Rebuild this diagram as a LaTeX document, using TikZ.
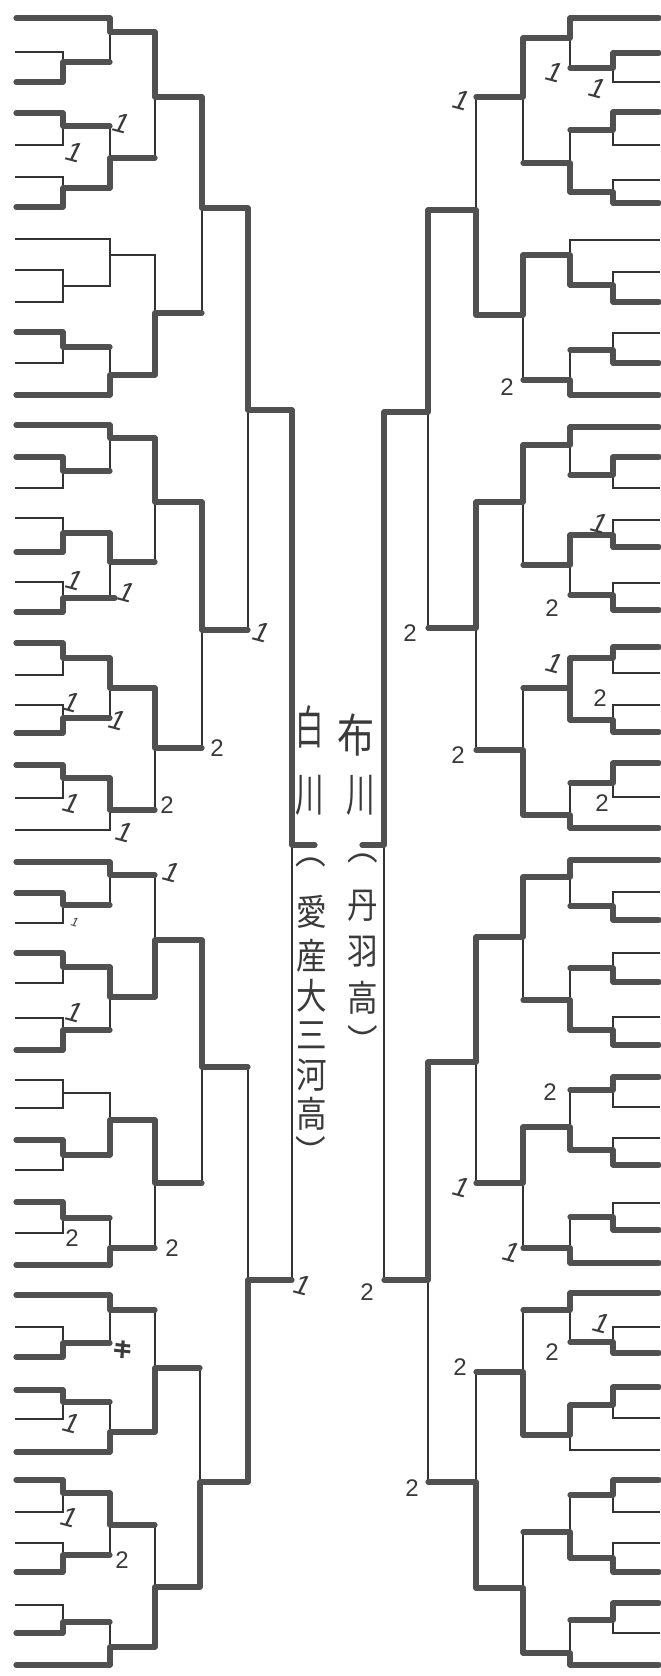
\documentclass[tikz,border=0pt]{standalone}
\usepackage{fontspec}
\setmainfont{Liberation Sans}
\newfontfamily\jp{Noto Sans CJK JP}
\definecolor{thinc}{HTML}{333333}
\definecolor{thkc}{HTML}{505050}
\definecolor{inkc}{HTML}{3A3A3A}
\pgfdeclarelayer{bg}
\pgfsetlayers{bg,main}
\tikzset{
 thn/.style={line width=1.3pt, draw=thinc, line cap=rect},
 thk/.style={line width=5.2pt, draw=thkc, line cap=round, line join=round},
 two/.style={font=\fontsize{24}{24}\selectfont, text=inkc, inner sep=0pt},
 one/.style={font=\fontsize{28}{28}\selectfont\itshape, text=inkc, inner sep=0pt, rotate=-15},
 jpbig/.style={font=\jp\fontsize{46}{46}\selectfont, text=inkc, inner sep=0pt, xscale=0.62},
 jpsm/.style={font=\jp\fontsize{36}{36}\selectfont, text=inkc, inner sep=0pt, xscale=0.85}
}
\newcommand\eK[3]{\draw[thk] (#1,#3) -- (#2,#3);}
\newcommand\eN[3]{\begin{pgfonlayer}{bg}\draw[thn] (#1,#3) -- (#2,#3);\end{pgfonlayer}}
\newcommand\mV[3]{\begin{pgfonlayer}{bg}\draw[thn] (#1,#2) -- (#1,#3);\end{pgfonlayer}}
\newcommand\mT[5]{\mV{#1}{#3}{#4}\draw[thk] (#1,#3) -- (#1,#5) -- (#2,#5);}
\newcommand\mB[5]{\mV{#1}{#3}{#4}\draw[thk] (#1,#4) -- (#1,#5) -- (#2,#5);}
\newcommand\mN[5]{\mV{#1}{#3}{#4}\begin{pgfonlayer}{bg}\draw[thn] (#1,#5) -- (#2,#5);\end{pgfonlayer}}
\begin{document}
\begin{tikzpicture}[x=1pt,y=-1pt]
\begin{pgfonlayer}{bg}
\fill[white] (0,0) rectangle (661,1676);
\end{pgfonlayer}
\useasboundingbox (0,0) rectangle (661,1676);
% ================= LEFT =================
% block 1
\eK{16}{110}{18}\eN{16}{63}{52}\eK{16}{63}{82}\eK{16}{63}{113}\eN{16}{63}{145}
\eN{16}{63}{177}\eK{16}{63}{207}\eN{16}{110}{239}\eN{16}{63}{270}\eN{16}{63}{302}
\eK{16}{63}{332}\eN{16}{63}{363}\eK{16}{110}{395}
\mB{63}{110}{52}{82}{62}
\mT{110}{155}{18}{62}{32}
\mT{63}{110}{113}{145}{126}
\mB{63}{110}{177}{207}{188}
\mB{110}{155}{126}{188}{158}
\mT{155}{202}{32}{158}{97}
\mN{63}{110}{270}{302}{286}
\mN{110}{155}{239}{286}{255}
\mT{63}{110}{332}{363}{347}
\mB{110}{155}{347}{395}{375}
\mB{155}{202}{255}{375}{313}
\mT{202}{248}{97}{313}{208}
% block 2
\eK{16}{110}{425}\eK{16}{63}{457}\eN{16}{63}{488}\eN{16}{63}{518}\eK{16}{63}{552}
\eN{16}{63}{582}\eK{16}{63}{612}\eK{16}{63}{643}\eN{16}{63}{675}\eN{16}{63}{705}
\eK{16}{63}{733}\eK{16}{63}{765}\eN{16}{63}{798}\eN{16}{110}{830}
\mT{63}{110}{457}{488}{471}
\mT{110}{155}{425}{471}{438}
\mB{63}{110}{518}{552}{533}
\mB{63}{115}{582}{612}{598}
\mT{110}{155}{533}{598}{562}
\mT{155}{202}{438}{562}{502}
\mT{63}{110}{643}{675}{658}
\mB{63}{110}{705}{733}{718}
\mT{110}{155}{658}{718}{688}
\mT{63}{110}{765}{798}{778}
\mT{110}{155}{778}{830}{810}
\mT{155}{202}{688}{810}{748}
\mT{202}{248}{502}{748}{630}
\mT{248}{292}{208}{630}{410}
% block 3
\eK{16}{110}{862}\eK{16}{63}{893}\eN{16}{63}{923}\eK{16}{63}{953}\eN{16}{63}{983}
\eN{16}{63}{1018}\eK{16}{63}{1050}\eN{16}{63}{1080}\eN{16}{63}{1108}\eK{16}{63}{1140}
\eN{16}{63}{1170}\eK{16}{63}{1202}\eN{16}{63}{1233}\eK{16}{110}{1265}
\mT{63}{110}{893}{923}{905}
\mT{110}{155}{862}{905}{875}
\mT{63}{110}{953}{983}{967}
\mB{63}{110}{1018}{1050}{1030}
\mT{110}{155}{967}{1030}{997}
\mB{155}{202}{875}{997}{940}
\mN{63}{110}{1080}{1108}{1093}
\mT{63}{110}{1140}{1170}{1155}
\mB{110}{155}{1093}{1155}{1120}
\mT{63}{110}{1202}{1233}{1218}
\mB{110}{155}{1218}{1265}{1248}
\mT{155}{202}{1120}{1248}{1183}
\mT{202}{248}{940}{1183}{1067}
% block 4
\eK{16}{110}{1295}\eN{16}{63}{1327}\eK{16}{63}{1357}\eK{16}{63}{1390}\eN{16}{63}{1419}
\eK{16}{110}{1452}\eK{16}{63}{1480}\eN{16}{63}{1512}\eN{16}{63}{1543}\eK{16}{63}{1572}
\eN{16}{63}{1605}\eK{16}{63}{1633}\eK{16}{110}{1665}
\mB{63}{110}{1327}{1357}{1343}
\mT{110}{155}{1295}{1343}{1310}
\mT{63}{110}{1390}{1419}{1402}
\mB{110}{155}{1402}{1452}{1432}
\mB{155}{200}{1310}{1432}{1368}
\mT{63}{110}{1480}{1512}{1493}
\mB{63}{110}{1543}{1572}{1555}
\mT{110}{155}{1493}{1555}{1525}
\mB{63}{110}{1605}{1633}{1622}
\mB{110}{155}{1622}{1665}{1647}
\mB{155}{200}{1525}{1647}{1587}
\mB{200}{248}{1368}{1587}{1482}
\mB{248}{292}{1067}{1482}{1280}
\mT{292}{315}{410}{1280}{845}
% ================= RIGHT =================
% block A
\eK{659}{570}{18}\eK{659}{613}{53}\eN{659}{613}{82}\eK{659}{613}{112}\eN{659}{613}{145}
\eN{659}{613}{180}\eK{659}{613}{203}\eN{659}{570}{240}\eN{659}{613}{272}\eK{659}{613}{302}
\eN{659}{613}{333}\eK{659}{613}{363}\eK{659}{570}{395}
\mT{613}{570}{53}{82}{68}
\mT{570}{523}{18}{68}{38}
\mT{613}{570}{112}{145}{130}
\mB{613}{570}{180}{203}{192}
\mB{570}{523}{130}{192}{163}
\mT{523}{476}{38}{163}{97}
\mB{613}{570}{272}{302}{285}
\mB{570}{523}{240}{285}{255}
\mB{613}{570}{333}{363}{350}
\mB{570}{523}{350}{395}{380}
\mT{523}{476}{255}{380}{315}
\mB{476}{428}{97}{315}{210}
% block B
\eK{659}{570}{427}\eK{659}{613}{457}\eN{659}{613}{488}\eN{659}{613}{520}\eK{659}{613}{547}
\eN{659}{613}{583}\eK{659}{613}{610}\eK{659}{613}{647}\eN{659}{613}{673}\eN{659}{613}{705}
\eK{659}{613}{732}\eK{659}{613}{763}\eN{659}{613}{797}\eK{659}{570}{828}
\mT{613}{570}{457}{488}{475}
\mT{570}{523}{427}{475}{445}
\mB{613}{570}{520}{547}{535}
\mB{613}{570}{583}{610}{595}
\mT{570}{523}{535}{595}{565}
\mT{523}{476}{445}{565}{502}
\mT{613}{570}{647}{673}{658}
\mB{613}{570}{705}{732}{720}
\mB{570}{523}{658}{720}{688}
\draw[thk] (570,658) -- (570,688);
\mT{613}{570}{763}{797}{783}
\mB{570}{523}{783}{828}{815}
\mB{523}{476}{688}{815}{750}
\mT{476}{428}{502}{750}{628}
\mT{428}{384}{210}{628}{412}
% block B'
\eK{659}{570}{860}\eN{659}{613}{892}\eK{659}{613}{920}\eN{659}{613}{953}\eK{659}{613}{982}
\eN{659}{613}{1017}\eK{659}{613}{1045}\eK{659}{613}{1077}\eN{659}{613}{1107}\eN{659}{613}{1138}
\eK{659}{613}{1165}\eN{659}{613}{1203}\eK{659}{613}{1230}\eK{659}{570}{1263}
\mB{613}{570}{892}{920}{906}
\mT{570}{523}{860}{906}{877}
\mB{613}{570}{953}{982}{968}
\mB{613}{570}{1017}{1045}{1030}
\mB{570}{523}{968}{1030}{1000}
\mT{523}{476}{877}{1000}{937}
\mT{613}{570}{1077}{1107}{1090}
\mB{613}{570}{1138}{1165}{1150}
\mB{570}{523}{1090}{1150}{1127}
\mB{613}{570}{1203}{1230}{1217}
\mB{570}{523}{1217}{1263}{1248}
\mT{523}{476}{1127}{1248}{1183}
\mT{476}{428}{937}{1183}{1062}
% block A'
\eK{659}{570}{1293}\eN{659}{613}{1327}\eK{659}{613}{1353}\eK{659}{613}{1387}\eN{659}{613}{1418}
\eN{659}{570}{1450}\eK{659}{613}{1480}\eN{659}{613}{1512}\eN{659}{613}{1543}\eK{659}{613}{1572}
\eK{659}{613}{1603}\eN{659}{613}{1633}\eK{659}{570}{1665}
\mB{613}{570}{1327}{1353}{1342}
\mT{570}{523}{1293}{1342}{1310}
\mT{613}{570}{1387}{1418}{1405}
\mT{570}{523}{1405}{1450}{1435}
\mB{523}{476}{1310}{1435}{1372}
\mT{613}{570}{1480}{1512}{1495}
\mB{613}{570}{1543}{1572}{1558}
\mB{570}{523}{1495}{1558}{1532}
\mT{613}{570}{1603}{1633}{1620}
\mB{570}{523}{1620}{1665}{1653}
\mB{523}{476}{1532}{1653}{1588}
\mB{476}{428}{1372}{1588}{1482}
\mT{428}{384}{1062}{1482}{1280}
\mT{384}{362}{412}{1280}{845}
% ================= SCORES =================
\node[one] (la1) at (122,123) {1};
\node[one] (la2) at (75,152) {1};
\node[one] (la3) at (75,580) {1};
\node[one] (la4) at (127,592) {1};
\node[one] (la5) at (262,632) {1};
\node[one] (la6) at (72,702) {1};
\node[one] (la7) at (118,720) {1};
\node[one] (la8) at (72,803) {1};
\node[one] (la9) at (125,832) {1};
\node[one] (la10) at (172,872) {1};
\node[one, scale=0.45] (la11) at (75,922) {1};
\node[one] (la12) at (75,1012) {1};
\node[one] (la13) at (303,1285) {1};
\node[one] (la14) at (72,1423) {1};
\node[one] (la15) at (70,1517) {1};
\node[two] (lb1) at (217,748) {2};
\node[two] (lb2) at (167,805) {2};
\node[two] (lb3) at (72,1238) {2};
\node[two] (lb4) at (172,1248) {2};
\node[two] (lb5) at (122,1560) {2};
\node[font=\jp\bfseries\fontsize{20}{20}\selectfont, text=inkc, inner sep=0pt, rotate=-15] (lk) at (123,1350) {キ};
\node[one] (ra1) at (555,72) {1};
\node[one] (ra2) at (598,88) {1};
\node[one] (ra3) at (462,100) {1};
\node[one] (ra4) at (600,523) {1};
\node[one] (ra5) at (555,663) {1};
\node[one] (ra6) at (462,1187) {1};
\node[one] (ra7) at (512,1252) {1};
\node[one] (ra8) at (602,1323) {1};
\node[two] (rb1) at (507,387) {2};
\node[two] (rb2) at (410,633) {2};
\node[two] (rb3) at (552,608) {2};
\node[two] (rb4) at (600,698) {2};
\node[two] (rb5) at (458,755) {2};
\node[two] (rb6) at (602,803) {2};
\node[two] (rb7) at (550,1092) {2};
\node[two] (rb8) at (367,1292) {2};
\node[two] (rb9) at (552,1352) {2};
\node[two] (rb10) at (460,1367) {2};
\node[two] (rb11) at (412,1488) {2};
% ================= NAMES =================
\node[jpbig] (sh1) at (310,727) {白};
\node[jpbig] (sh2) at (310,795) {川};
\node[jpbig, xscale=1.3] (nu1) at (356,735) {布};
\node[jpbig] (nu2) at (361,795) {川};
\node[jpsm] (lp1) at (311,862) {︵};
\node[jpsm] (lc1) at (312,912) {愛};
\node[jpsm] (lc2) at (312,956) {産};
\node[jpsm] (lc3) at (312,996) {大};
\node[jpsm] (lc4) at (312,1035) {三};
\node[jpsm] (lc5) at (312,1075) {河};
\node[jpsm] (lc6) at (312,1114) {高};
\node[jpsm] (lp2) at (311,1151) {︶};
\node[jpsm] (rp1) at (363,858) {︵};
\node[jpsm] (rc1) at (363,906) {丹};
\node[jpsm] (rc2) at (363,952) {羽};
\node[jpsm] (rc3) at (363,998) {高};
\node[jpsm] (rp2) at (363,1040) {︶};
\end{tikzpicture}
\end{document}
